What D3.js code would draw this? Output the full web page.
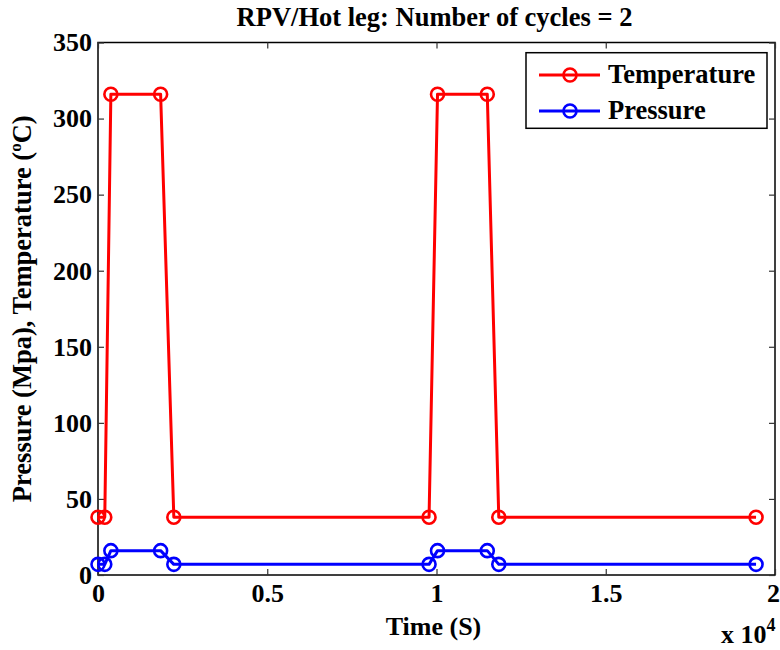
<!DOCTYPE html>
<html>
<head>
<meta charset="utf-8">
<script src="https://cdn.jsdelivr.net/npm/d3@7"></script>
<style>
  html, body { margin: 0; padding: 0; background: #fff; }
  svg { display: block; }
  text { font-family: "Liberation Serif", "Times New Roman", serif; font-weight: bold; fill: #000; }
</style>
</head>
<body>
<svg id="chart" width="780" height="650"></svg>
<script>
// ---- data ----
const timeS = [0, 200, 380, 1850, 2240, 9780, 10030, 11500, 11840, 19440];
const temperature = [38, 38, 316, 316, 38, 38, 316, 316, 38, 38];
const pressure = [7, 7, 16, 16, 7, 7, 16, 16, 7, 7];
const seriesNames = ["Temperature", "Pressure"];
const seriesColors = ["#ff0000", "#0000ff"];
const xTicks = [0, 5000, 10000, 15000, 20000];
const yTicks = [0, 50, 100, 150, 200, 250, 300, 350];
const titleText = "RPV/Hot leg: Number of cycles = 2";
const xLabel = "Time (S)";

const series = [
  { name: seriesNames[0], color: seriesColors[0], values: temperature },
  { name: seriesNames[1], color: seriesColors[1], values: pressure }
];

const svg = d3.select("#chart");
const pL = 98, pR = 775, pT = 42.5, pB = 575;
const x = d3.scaleLinear().domain([0, 20000]).range([pL, pR]);
const y = d3.scaleLinear().domain([0, 350]).range([pB, pT]);
const FS = 26;

// axes frame
svg.append("rect").attr("x", pL).attr("y", pT)
  .attr("width", pR - pL).attr("height", pB - pT)
  .attr("fill", "none").attr("stroke", "#000").attr("stroke-width", 1.5);

const tickLen = 6;
const fmtX = d => d3.format("")(d / 10000);

const gx = svg.append("g").attr("transform", `translate(0,${pB})`)
  .call(d3.axisBottom(x).tickValues(xTicks).tickFormat(fmtX).tickSizeInner(-tickLen).tickSizeOuter(0).tickPadding(9));
const gxTop = svg.append("g").attr("transform", `translate(0,${pT})`)
  .call(d3.axisTop(x).tickValues(xTicks).tickFormat("").tickSizeInner(-tickLen).tickSizeOuter(0));
const gy = svg.append("g").attr("transform", `translate(${pL},0)`)
  .call(d3.axisLeft(y).tickValues(yTicks).tickSizeInner(-tickLen).tickSizeOuter(0).tickPadding(6));
const gyR = svg.append("g").attr("transform", `translate(${pR},0)`)
  .call(d3.axisRight(y).tickValues(yTicks).tickFormat("").tickSizeInner(-tickLen).tickSizeOuter(0));

[gx, gxTop, gy, gyR].forEach(g => {
  g.select(".domain").remove();
  g.selectAll(".tick line").attr("stroke", "#333").attr("stroke-width", 1.2);
  g.selectAll("text").style("font-size", FS + "px").attr("fill", "#000");
});
// keep the last x tick label inside the picture
gx.selectAll(".tick text").filter(d => d === 20000).attr("dx", -2);

// lines + markers
const line = d3.line().x((d, i) => x(timeS[i])).y(d => y(d));
series.forEach(s => {
  svg.append("path").datum(s.values).attr("d", line)
    .attr("fill", "none").attr("stroke", s.color).attr("stroke-width", 3)
    .attr("stroke-linejoin", "round");
  svg.append("g").selectAll("circle").data(s.values).join("circle")
    .attr("cx", (d, i) => x(timeS[i])).attr("cy", d => y(d)).attr("r", 6.5)
    .attr("fill", "none").attr("stroke", s.color).attr("stroke-width", 2.6);
});

// title
svg.append("text").attr("x", (pL + pR) / 2 - 2).attr("y", 26)
  .attr("text-anchor", "middle").style("font-size", "26.5px").text(titleText);

// x label
svg.append("text").attr("x", (pL + pR) / 2 - 3).attr("y", 635)
  .attr("text-anchor", "middle").style("font-size", "26px").text(xLabel);

// exponent label
const ex = svg.append("text").attr("x", 721).attr("y", 643).style("font-size", "26px");
ex.append("tspan").text("x 10");
ex.append("tspan").attr("dy", -12).style("font-size", "18px").text("4");

// y label
const yl = svg.append("text")
  .attr("transform", `translate(31,${(pT + pB) / 2}) rotate(-90)`)
  .attr("text-anchor", "middle").style("font-size", "26.5px");
yl.append("tspan").text("Pressure (Mpa), Temperature (");
yl.append("tspan").attr("dy", -10).style("font-size", "17px").text("o");
yl.append("tspan").attr("dy", 10).text("C)");

// legend
const lg = svg.append("g");
lg.append("rect").attr("x", 526).attr("y", 52.7).attr("width", 241).attr("height", 75.6)
  .attr("fill", "#fff").attr("stroke", "#000").attr("stroke-width", 1.5);
series.forEach((s, i) => {
  const cy = 75 + i * 36;
  lg.append("line").attr("x1", 539).attr("x2", 600).attr("y1", cy).attr("y2", cy)
    .attr("stroke", s.color).attr("stroke-width", 3);
  lg.append("circle").attr("cx", 570).attr("cy", cy).attr("r", 6.5)
    .attr("fill", "none").attr("stroke", s.color).attr("stroke-width", 2.6);
  lg.append("text").attr("x", 608).attr("y", cy + 8).style("font-size", "26.5px").text(s.name);
});
</script>
</body>
</html>
